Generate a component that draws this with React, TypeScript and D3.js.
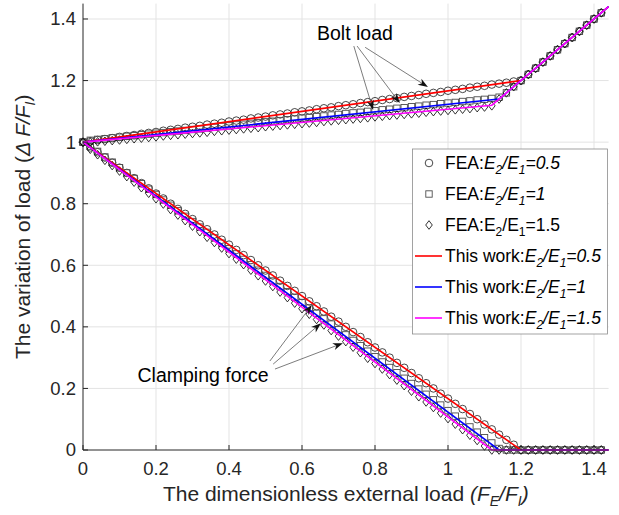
import * as d3 from 'd3';

// FEA sample positions (F_E/F_I)
const feaX = [0, 0.02, 0.04, 0.06, 0.08, 0.1, 0.12, 0.14, 0.16, 0.18, 0.2, 0.22, 0.24, 0.26, 0.28, 0.3, 0.32, 0.34, 0.36, 0.38,
  0.4, 0.42, 0.44, 0.46, 0.48, 0.5, 0.52, 0.54, 0.56, 0.58, 0.6, 0.62, 0.64, 0.66, 0.68, 0.7, 0.72, 0.74, 0.76, 0.78,
  0.8, 0.82, 0.84, 0.86, 0.88, 0.9, 0.92, 0.94, 0.96, 0.98, 1, 1.02, 1.04, 1.06, 1.08, 1.1, 1.12, 1.14, 1.16, 1.18,
  1.2, 1.22, 1.24, 1.26, 1.28, 1.3, 1.32, 1.34, 1.36, 1.38, 1.4, 1.42];

// FEA, E2/E1 = 0.5 (circles)
const boltFea05 = [1, 1.003, 1.007, 1.01, 1.013, 1.017, 1.02, 1.023, 1.027, 1.03, 1.033, 1.037, 1.04, 1.043, 1.047, 1.05, 1.053, 1.057, 1.06, 1.063,
  1.067, 1.07, 1.073, 1.077, 1.08, 1.083, 1.087, 1.09, 1.093, 1.097, 1.1, 1.103, 1.107, 1.11, 1.113, 1.117, 1.12, 1.123, 1.127, 1.13,
  1.133, 1.137, 1.14, 1.143, 1.147, 1.15, 1.153, 1.157, 1.16, 1.163, 1.167, 1.17, 1.173, 1.177, 1.18, 1.183, 1.187, 1.19, 1.193, 1.197,
  1.2, 1.22, 1.24, 1.26, 1.28, 1.3, 1.32, 1.34, 1.36, 1.38, 1.4, 1.42];
const clampFea05 = [1, 0.983, 0.967, 0.95, 0.933, 0.917, 0.9, 0.883, 0.867, 0.85, 0.833, 0.817, 0.8, 0.783, 0.767, 0.75, 0.733, 0.717, 0.7, 0.683,
  0.667, 0.65, 0.633, 0.617, 0.6, 0.583, 0.567, 0.55, 0.533, 0.517, 0.5, 0.483, 0.467, 0.45, 0.433, 0.417, 0.4, 0.383, 0.367, 0.35,
  0.333, 0.317, 0.3, 0.283, 0.267, 0.25, 0.233, 0.217, 0.2, 0.183, 0.167, 0.15, 0.133, 0.117, 0.1, 0.083, 0.067, 0.05, 0.033, 0.017,
  0, 0, 0, 0, 0, 0, 0, 0, 0, 0, 0, 0];

// FEA, E2/E1 = 1 (squares)
const boltFea1 = [1, 1.006, 1.009, 1.011, 1.014, 1.016, 1.019, 1.021, 1.024, 1.026, 1.029, 1.031, 1.034, 1.036, 1.038, 1.041, 1.043, 1.046, 1.048, 1.051,
  1.053, 1.056, 1.058, 1.061, 1.063, 1.066, 1.068, 1.07, 1.073, 1.075, 1.078, 1.08, 1.083, 1.085, 1.088, 1.09, 1.093, 1.095, 1.097, 1.1,
  1.102, 1.105, 1.107, 1.11, 1.112, 1.115, 1.117, 1.12, 1.122, 1.125, 1.127, 1.129, 1.132, 1.134, 1.137, 1.139, 1.142, 1.146, 1.16, 1.18,
  1.2, 1.22, 1.24, 1.26, 1.28, 1.3, 1.32, 1.34, 1.36, 1.38, 1.4, 1.42];
const clampFea1 = [1, 0.987, 0.97, 0.952, 0.935, 0.917, 0.9, 0.882, 0.865, 0.847, 0.83, 0.812, 0.795, 0.777, 0.759, 0.742, 0.724, 0.707, 0.689, 0.672,
  0.654, 0.637, 0.619, 0.602, 0.584, 0.567, 0.549, 0.531, 0.514, 0.496, 0.479, 0.461, 0.444, 0.426, 0.409, 0.391, 0.374, 0.356, 0.339, 0.321,
  0.303, 0.286, 0.268, 0.251, 0.233, 0.216, 0.198, 0.181, 0.163, 0.146, 0.128, 0.11, 0.093, 0.075, 0.058, 0.04, 0.023, 0.005, 0, 0,
  0, 0, 0, 0, 0, 0, 0, 0, 0, 0, 0, 0];

// FEA, E2/E1 = 1.5 (diamonds)
const boltFea15 = [1, 1, 1.001, 1.003, 1.005, 1.007, 1.009, 1.011, 1.013, 1.015, 1.017, 1.02, 1.022, 1.024, 1.026, 1.028, 1.03, 1.032, 1.035, 1.037,
  1.039, 1.041, 1.043, 1.045, 1.047, 1.05, 1.052, 1.054, 1.056, 1.058, 1.06, 1.062, 1.064, 1.067, 1.069, 1.071, 1.073, 1.075, 1.077, 1.079,
  1.082, 1.084, 1.086, 1.088, 1.09, 1.092, 1.094, 1.097, 1.099, 1.101, 1.103, 1.105, 1.107, 1.109, 1.112, 1.114, 1.118, 1.14, 1.16, 1.18,
  1.2, 1.22, 1.24, 1.26, 1.28, 1.3, 1.32, 1.34, 1.36, 1.38, 1.4, 1.42];
const clampFea15 = [1, 0.977, 0.959, 0.941, 0.924, 0.906, 0.888, 0.87, 0.852, 0.834, 0.816, 0.799, 0.781, 0.763, 0.745, 0.727, 0.709, 0.691, 0.674, 0.656,
  0.638, 0.62, 0.602, 0.584, 0.566, 0.549, 0.531, 0.513, 0.495, 0.477, 0.459, 0.441, 0.424, 0.406, 0.388, 0.37, 0.352, 0.334, 0.316, 0.298,
  0.281, 0.263, 0.245, 0.227, 0.209, 0.191, 0.173, 0.156, 0.138, 0.12, 0.102, 0.084, 0.066, 0.048, 0.031, 0.013, 0, 0, 0, 0,
  0, 0, 0, 0, 0, 0, 0, 0, 0, 0, 0, 0];

// "This work" lines: vertices (start, separation point, end)
const lineX05 = [0, 1.2, 1.44];
const lineX1 = [0, 1.14, 1.44];
const lineX15 = [0, 1.12, 1.44];
const boltLine05 = [1, 1.2, 1.44];
const boltLine1 = [1, 1.14, 1.44];
const boltLine15 = [1, 1.12, 1.44];
const clampLine = [1, 0, 0];

const ticks = [0, 0.2, 0.4, 0.6, 0.8, 1, 1.2, 1.4];
const tickLabels = ['0', '0.2', '0.4', '0.6', '0.8', '1', '1.2', '1.4'];
const ratios = ['0.5', '1', '1.5'];

const FONT = '"Liberation Sans", Arial, Helvetica, sans-serif';
const TXT = '#262626';

const x = d3.scaleLinear().domain([0, 1.44]).range([83, 608.6]);
const y = d3.scaleLinear().domain([0, 1.45]).range([450, 3.6]);

function Marker({ kind, cx, cy }: { kind: string; cx: number; cy: number }) {
  if (kind === 'o') return <circle cx={cx} cy={cy} r={3.8} fill="none" stroke="#1a1a1a" strokeWidth={0.8} />;
  if (kind === 's') return <rect x={cx - 3.2} y={cy - 3.2} width={6.4} height={6.4} fill="none" stroke="#4d4d4d" strokeWidth={0.9} />;
  return <path d={`M${cx},${cy - 4.3}L${cx + 3.3},${cy}L${cx},${cy + 4.3}L${cx - 3.3},${cy}Z`} fill="none" stroke="#000" strokeWidth={0.8} />;
}

function Arrow({ x1, y1, x2, y2 }: { x1: number; y1: number; x2: number; y2: number }) {
  const a = Math.atan2(y2 - y1, x2 - x1);
  const L = 10, w = 3.6;
  const bx = x2 - L * Math.cos(a), by = y2 - L * Math.sin(a);
  const nx = -Math.sin(a), ny = Math.cos(a);
  const mx = x2 - L * 0.7 * Math.cos(a), my = y2 - L * 0.7 * Math.sin(a);
  const head = `M${x2},${y2}L${bx + nx * w},${by + ny * w}L${mx},${my}L${bx - nx * w},${by - ny * w}Z`;
  return (
    <g>
      <line x1={x1} y1={y1} x2={mx} y2={my} stroke="#444" strokeWidth={0.7} />
      <path d={head} fill="#111" />
    </g>
  );
}

function Ratio({ value, italic, sub }: { value: string; italic: boolean; sub: number }) {
  const fs = italic ? 'italic' : 'normal';
  return (
    <>
      <tspan fontStyle={fs}>E</tspan>
      <tspan fontStyle={fs} fontSize={sub} dy={5}>2</tspan>
      <tspan fontStyle={fs} dy={-5}>/E</tspan>
      <tspan fontStyle={fs} fontSize={sub} dy={5}>1</tspan>
      <tspan fontStyle={fs} dy={-5}>={value}</tspan>
    </>
  );
}

export default function App() {
  const line = d3.line<number>();
  const path = (xs: number[], ys: number[]) => line(xs.map((v, i) => [x(v), y(ys[i])] as [number, number])) || '';

  const fea = [
    { kind: 'o', bolt: boltFea05, clamp: clampFea05 },
    { kind: 's', bolt: boltFea1, clamp: clampFea1 },
    { kind: 'd', bolt: boltFea15, clamp: clampFea15 },
  ];
  const lines = [
    { color: '#ff0000', xs: lineX05, bolt: boltLine05 },
    { color: '#0000ff', xs: lineX1, bolt: boltLine1 },
    { color: '#ff00ff', xs: lineX15, bolt: boltLine15 },
  ];

  const boltArrows = [
    [0.742, 1.312, 0.795, 1.104],
    [0.751, 1.312, 0.868, 1.127],
    [0.773, 1.308, 0.945, 1.179],
  ];
  const clampArrows = [
    [0.512, 0.289, 0.627, 0.471],
    [0.521, 0.279, 0.652, 0.412],
    [0.526, 0.263, 0.712, 0.347],
  ];

  const lgX = 412.5, lgY = 149, lgW = 195, lgH = 185;
  const rowY = (i: number) => 163 + i * 31;

  return (
    <svg width={619} height={515} style={{ position: 'absolute', left: 0, top: 0, background: '#fff' }} fontFamily={FONT}>
      <rect width={619} height={515} fill="#fff" />
      {/* grid */}
      <g stroke="#e3e3e3" strokeWidth={1}>
        {ticks.slice(1).map(t => <line key={'gx' + t} x1={x(t)} x2={x(t)} y1={y(0)} y2={y(1.45)} />)}
        {ticks.slice(1).map(t => <line key={'gy' + t} x1={x(0)} x2={x(1.44)} y1={y(t)} y2={y(t)} />)}
      </g>

      {/* FEA markers */}
      {fea.map(s => (
        <g key={s.kind}>
          {feaX.map((v, i) => <Marker key={'b' + i} kind={s.kind} cx={x(v)} cy={y(s.bolt[i])} />)}
          {feaX.map((v, i) => <Marker key={'c' + i} kind={s.kind} cx={x(v)} cy={y(s.clamp[i])} />)}
        </g>
      ))}

      {/* This work lines */}
      {lines.map(l => (
        <g key={l.color} fill="none" stroke={l.color} strokeWidth={1.6}>
          <path d={path(l.xs, l.bolt)} />
          <path d={path(l.xs, clampLine)} />
        </g>
      ))}

      {/* axes */}
      <g stroke={TXT} strokeWidth={1}>
        <line x1={x(0)} x2={x(0)} y1={y(0)} y2={y(1.45)} />
        <line x1={x(0)} x2={x(1.44)} y1={y(0)} y2={y(0)} />
        {ticks.map(t => <line key={'tx' + t} x1={x(t)} x2={x(t)} y1={y(0)} y2={y(0) - 5} />)}
        {ticks.map(t => <line key={'ty' + t} x1={x(0)} x2={x(0) + 5} y1={y(t)} y2={y(t)} />)}
      </g>
      <g fill={TXT} fontSize={18.5}>
        {ticks.map((t, i) => <text key={'lx' + t} x={x(t)} y={y(0) + 25} textAnchor="middle">{tickLabels[i]}</text>)}
        {ticks.map((t, i) => <text key={'ly' + t} x={x(0) - 7} y={y(t)} dy="0.35em" textAnchor="end">{tickLabels[i]}</text>)}
      </g>

      {/* axis titles */}
      <text x={(x(0) + x(1.44)) / 2} y={501} textAnchor="middle" fontSize={21} fill={TXT}>
        The dimensionless external load <tspan fontStyle="italic">(F</tspan>
        <tspan fontStyle="italic" fontSize={14} dy={5}>E</tspan>
        <tspan fontStyle="italic" dy={-5}>/F</tspan>
        <tspan fontStyle="italic" fontSize={14} dy={5}>I</tspan>
        <tspan fontStyle="italic" dy={-5}>)</tspan>
      </text>
      <text transform={`translate(30,${(y(0) + y(1.45)) / 2}) rotate(-90)`} textAnchor="middle" fontSize={21} fill={TXT}>
        The variation of load (<tspan fontStyle="italic">{'\u0394 F/F'}</tspan>
        <tspan fontStyle="italic" fontSize={14} dy={5}>I</tspan>
        <tspan dy={-5}>)</tspan>
      </text>

      {/* annotations */}
      {boltArrows.map((a, i) => <Arrow key={'ba' + i} x1={x(a[0])} y1={y(a[1])} x2={x(a[2])} y2={y(a[3])} />)}
      {clampArrows.map((a, i) => <Arrow key={'ca' + i} x1={x(a[0])} y1={y(a[1])} x2={x(a[2])} y2={y(a[3])} />)}
      <text x={x(0.745)} y={y(1.354)} dy="0.35em" textAnchor="middle" fontSize={19.5} fill="#000">Bolt load</text>
      <text x={x(0.329)} y={y(0.244)} dy="0.35em" textAnchor="middle" fontSize={19.5} fill="#000">Clamping force</text>

      {/* legend */}
      <rect x={lgX} y={lgY} width={lgW} height={lgH} fill="#fff" stroke="#8c8c8c" strokeWidth={0.8} />
      {ratios.map((r, i) => (
        <g key={'lf' + i}>
          <Marker kind={['o', 's', 'd'][i]} cx={429} cy={rowY(i)} />
          <text x={445} y={rowY(i)} dy="0.35em" fontSize={17.5} fill="#000">
            FEA:<Ratio value={r} italic={i < 2} sub={12} />
          </text>
        </g>
      ))}
      {ratios.map((r, i) => (
        <g key={'ll' + i}>
          <line x1={415} x2={442} y1={rowY(i + 3)} y2={rowY(i + 3)} stroke={lines[i].color} strokeWidth={1.6} />
          <text x={445} y={rowY(i + 3)} dy="0.35em" fontSize={17.5} fill="#000">
            This work:<Ratio value={r} italic={true} sub={12} />
          </text>
        </g>
      ))}
    </svg>
  );
}
